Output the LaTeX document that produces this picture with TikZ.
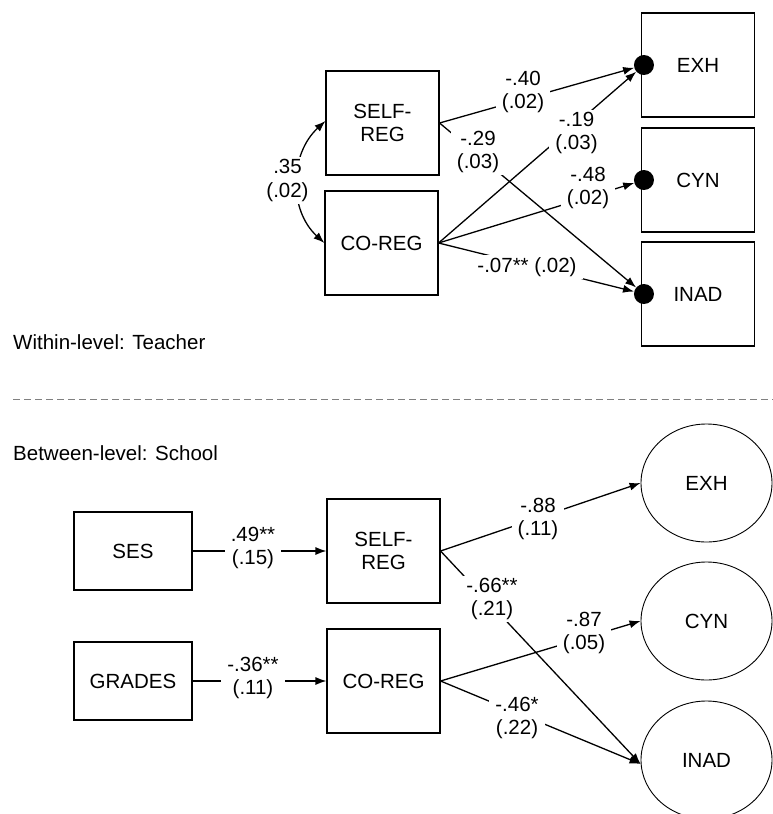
\documentclass[tikz,border=0pt]{standalone}
\usepackage{fontspec}
\setmainfont{Liberation Sans}
\usetikzlibrary{arrows.meta,shapes.geometric}
\begin{document}
\begin{tikzpicture}[x=1pt,y=-1pt,
  font=\fontsize{20.5}{23.5}\selectfont,
  box/.style={draw,line width=1.1pt,minimum width=113pt,minimum height=104pt,align=center,inner sep=0pt},
  sbox/.style={box,minimum width=118pt,minimum height=78pt},
  lat/.style={draw,ellipse,line width=0.9pt,minimum width=131pt,minimum height=118pt,inner sep=0pt},
  dotnode/.style={circle,fill=black,minimum size=20pt,inner sep=0pt},
  arr/.style={draw,line width=1.3pt,-{Latex[length=11pt,width=8pt]}},
  dblarr/.style={draw,line width=1.3pt,{Latex[length=11pt,width=8pt]}-{Latex[length=11pt,width=8pt]}},
  lbl/.style={fill=white,align=center,inner xsep=6pt,inner ysep=2pt},
  title/.style={anchor=west,inner sep=0pt}
]
\useasboundingbox (0,0) rectangle (773,814);

% ---------- Within level ----------
\node[box] (sr1) at (382.5,123) {SELF-\\REG};
\node[box] (cr1) at (381.5,243) {CO-REG};
\node[box] (exh1) at (698,65) {EXH};
\node[box] (cyn1) at (698,180) {CYN};
\node[box] (inad1) at (698,294) {INAD};
\node[dotnode] (d1) at ([xshift=3pt]exh1.west) {};
\node[dotnode] (d2) at ([xshift=3pt]cyn1.west) {};
\node[dotnode] (d3) at ([xshift=3pt]inad1.west) {};

\draw[dblarr] ([yshift=2pt]sr1.west) .. controls +(-36,33) and +(-36,-33) .. (cr1.west);
\draw[arr] (sr1.east) -- (d1);
\draw[arr] (sr1.east) -- (d3);
\draw[arr] (cr1.east) -- (d1);
\draw[arr] (cr1.east) -- (d2);
\draw[arr] (cr1.east) -- (d3);

\node[lbl] (l35) at (287.5,180.5) {.35\\(.02)};
\node[lbl] (l40) at (523,92) {-.40\\(.02)};
\node[lbl] (l29) at (478,152) {-.29\\(.03)};
\node[lbl] (l19) at (576.5,133) {-.19\\(.03)};
\node[lbl] (l48) at (588,188) {-.48\\(.02)};
\node[lbl] (l07) at (527,267) {-.07** (.02)};

\node[title] (wt) at (13,342) {Within-level: Teacher};

\coordinate (dl) at (13,399);
\coordinate (dr) at (773,399);
\draw[gray,line width=1pt,dash pattern=on 7pt off 4pt] (dl) -- (dr);

% ---------- Between level ----------
\node[title] (bt) at (13,453) {Between-level: School};

\node[sbox] (ses) at (133,551) {SES};
\node[sbox] (gr) at (133,681) {GRADES};
\node[box] (sr2) at (383.5,551) {SELF-\\REG};
\node[box] (cr2) at (383.5,681) {CO-REG};
\node[lat] (exh2) at (706.5,483) {EXH};
\node[lat] (cyn2) at (706.5,621) {CYN};
\node[lat] (inad2) at (706.5,760) {INAD};

\draw[arr] (ses) -- (sr2);
\draw[arr] (gr) -- (cr2);
\draw[arr] (sr2.east) -- (exh2.west);
\draw[arr] (sr2.east) -- ([yshift=-4pt]inad2.west);
\draw[arr] (cr2.east) -- (cyn2.west);
\draw[arr] (cr2.east) -- ([yshift=-4pt]inad2.west);

\node[lbl] (l49) at (253,548) {.49**\\(.15)};
\node[lbl] (l36) at (253,678) {-.36**\\(.11)};
\node[lbl] (l88) at (538,519) {-.88\\(.11)};
\node[lbl] (l66) at (492,599) {-.66**\\(.21)};
\node[lbl] (l87) at (584,633) {-.87\\(.05)};
\node[lbl] (l46) at (517,718) {-.46*\\(.22)};
\end{tikzpicture}
\end{document}
